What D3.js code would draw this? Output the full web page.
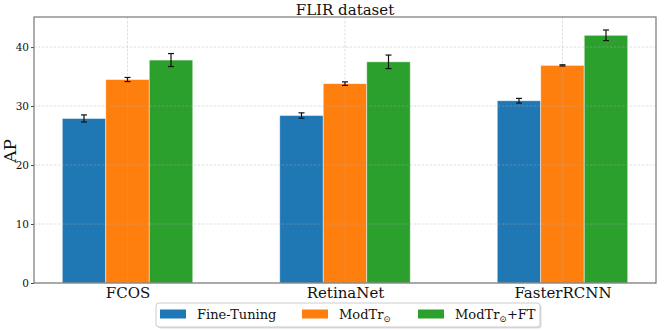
<!DOCTYPE html>
<html>
<head>
<meta charset="utf-8">
<script src="https://cdn.jsdelivr.net/npm/d3@7"></script>
<style>
  body { margin: 0; background: #fff; }
  text { font-family: "DejaVu Serif", serif; fill: #111; }
</style>
</head>
<body>
<div id="vis"></div>
<script>
'use strict';

// data
var detectors = ['FCOS', 'RetinaNet', 'FasterRCNN'];
var methods = ['Fine-Tuning', 'ModTr', 'ModTr+FT'];
var colors = ['#1f77b4', '#ff7f0e', '#2ca02c'];
var apMean = [
    [27.9, 28.4, 30.9],   // Fine-Tuning
    [34.5, 33.8, 36.9],   // ModTr
    [37.8, 37.5, 42.0]    // ModTr+FT
];
var apErr = [
    [0.6, 0.45, 0.4],
    [0.35, 0.3, 0.1],
    [1.1, 1.15, 0.9]
];
var yTicks = [0, 10, 20, 30, 40];

var W = 664, H = 330;
var margin = { top: 17, right: 8, bottom: 47, left: 34 };
var w = W - margin.left - margin.right;
var h = H - margin.top - margin.bottom;
var barW = 0.2;

var svg = d3.select('#vis').append('svg')
    .attr('width', W)
    .attr('height', H);

var g = svg.append('g')
    .attr('transform', 'translate(' + margin.left + ',' + margin.top + ')');

var x = d3.scaleLinear().domain([-0.43, 2.43]).range([0, w]);
var y = d3.scaleLinear().domain([0, 45.1]).range([h, 0]);

//bars
methods.forEach(function (m, i) {
    g.selectAll('.bar-' + i)
        .data(apMean[i])
        .enter().append('rect')
        .attr('x', function (d, j) { return x(j + (i - 1.5) * barW); })
        .attr('y', function (d) { return y(d); })
        .attr('width', x(barW) - x(0))
        .attr('height', function (d) { return h - y(d); })
        .style('fill', colors[i])
        .style('stroke', 'rgba(255,255,255,0.6)')
        .style('stroke-width', 0.8);
});

//grid above bars
g.selectAll('.gy').data(yTicks).enter().append('line')
    .attr('x1', 0).attr('x2', w)
    .attr('y1', function (d) { return y(d); })
    .attr('y2', function (d) { return y(d); })
    .style('stroke', '#b0b0b0').style('stroke-opacity', 0.5)
    .style('stroke-width', 0.8).style('stroke-dasharray', '2.5,1.5');
g.selectAll('.gx').data(detectors).enter().append('line')
    .attr('x1', function (d, j) { return x(j); })
    .attr('x2', function (d, j) { return x(j); })
    .attr('y1', 0).attr('y2', h)
    .style('stroke', '#b0b0b0').style('stroke-opacity', 0.5)
    .style('stroke-width', 0.8).style('stroke-dasharray', '2.5,1.5');

//error bars
methods.forEach(function (m, i) {
    var eb = g.selectAll('.err-' + i)
        .data(apMean[i])
        .enter().append('g')
        .attr('transform', function (d, j) {
            return 'translate(' + x(j + (i - 1) * barW) + ',0)';
        });
    eb.append('line')
        .attr('y1', function (d, j) { return y(d - apErr[i][j]); })
        .attr('y2', function (d, j) { return y(d + apErr[i][j]); })
        .style('stroke', '#111').style('stroke-width', 1.2);
    [-1, 1].forEach(function (s) {
        eb.append('line')
            .attr('x1', -3).attr('x2', 3)
            .attr('y1', function (d, j) { return y(d + s * apErr[i][j]); })
            .attr('y2', function (d, j) { return y(d + s * apErr[i][j]); })
            .style('stroke', '#111').style('stroke-width', 1.2);
    });
});

//axes
var yAxis = g.append('g')
    .call(d3.axisLeft(y).tickValues(yTicks).tickSize(3).tickPadding(2));
yAxis.selectAll('text').style('font-size', '10.5px').style('font-family', '"DejaVu Serif", serif');
yAxis.select('.domain').remove();

var xAxis = g.append('g')
    .attr('transform', 'translate(0,' + h + ')')
    .call(d3.axisBottom(x).tickValues([0, 1, 2])
        .tickFormat(function (d) { return detectors[d]; })
        .tickSize(0).tickPadding(4));
xAxis.selectAll('text').style('font-size', '15px').style('font-family', '"DejaVu Serif", serif');
xAxis.select('.domain').remove();
g.selectAll('.tick line').style('stroke', '#444');

//frame
g.append('rect')
    .attr('width', w).attr('height', h)
    .style('fill', 'none').style('stroke', '#777').style('stroke-width', 1.2);

//title and y label
svg.append('text')
    .text('FLIR dataset')
    .attr('x', margin.left + w / 2).attr('y', 14.5)
    .attr('text-anchor', 'middle')
    .style('font-size', '15px');
svg.append('text')
    .text('AP')
    .attr('transform', 'translate(15.5,' + (margin.top + h / 2 + 1) + ') rotate(-90)')
    .attr('text-anchor', 'middle')
    .style('font-size', '17px');

//legend
var lg = svg.append('g').attr('transform', 'translate(156,303)');
lg.append('rect')
    .attr('x', 1.5).attr('y', 1.5)
    .attr('width', 384).attr('height', 24).attr('rx', 3)
    .style('fill', '#ddd');
lg.append('rect')
    .attr('width', 384).attr('height', 24).attr('rx', 3)
    .style('fill', '#fff').style('stroke', '#ccc').style('stroke-width', 1);
var legendX = [4, 146, 262];
methods.forEach(function (m, i) {
    var item = lg.append('g').attr('transform', 'translate(' + legendX[i] + ',0)');
    item.append('rect')
        .attr('x', 0).attr('y', 6.5).attr('width', 26).attr('height', 9)
        .style('fill', colors[i]);
    var t = item.append('text')
        .attr('x', 37).attr('y', 16)
        .style('font-size', '13px');
    if (i === 0) {
        t.text(m);
    } else {
        t.append('tspan').text('ModTr');
        t.append('tspan').text('\u2299')
            .attr('dy', 3).style('font-size', '9px');
        if (i === 2) {
            t.append('tspan').text('+FT').attr('dy', -3);
        }
    }
});
</script>
</body>
</html>
